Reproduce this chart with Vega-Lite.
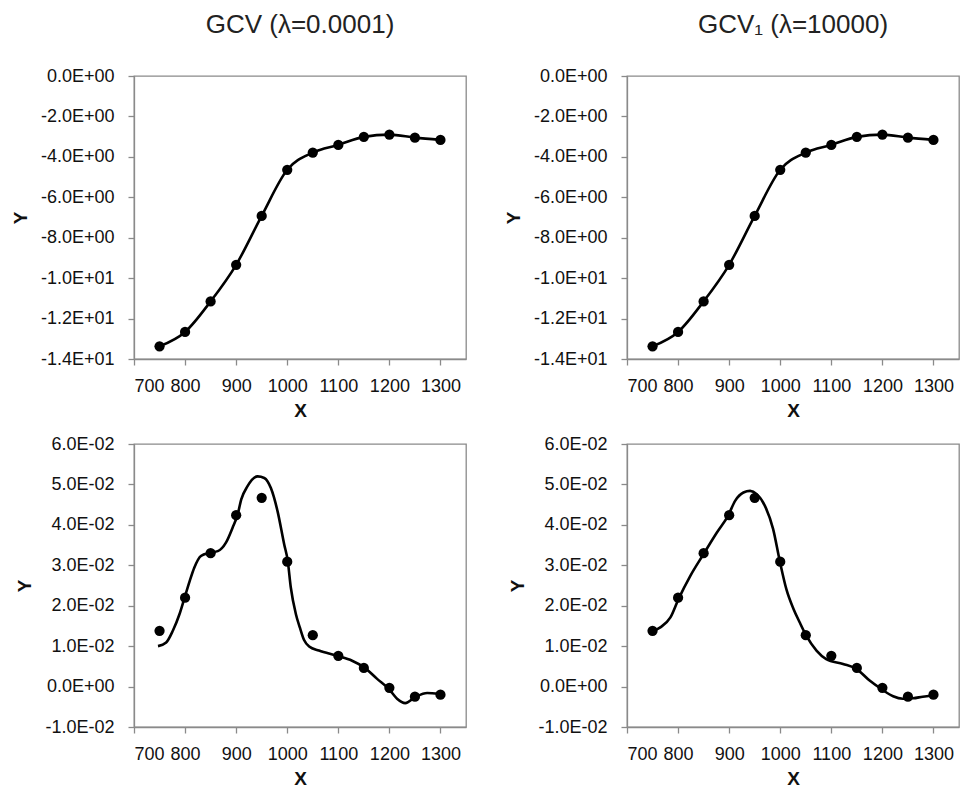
{
  "$schema": "https://vega.github.io/schema/vega-lite/v6.json",
  "background": "white",
  "padding": {"left": 10, "top": 11, "right": 10, "bottom": 5},
  "config": {
    "font": "Liberation Sans",
    "view": {"stroke": "#8a8a8a", "strokeWidth": 1.3},
    "axis": {
      "grid": false,
      "domainColor": "#8a8a8a",
      "domainWidth": 1.3,
      "tickColor": "#8a8a8a",
      "tickWidth": 1.3,
      "tickSize": 6,
      "labelFont": "Liberation Sans",
      "labelFontSize": 18,
      "labelColor": "#111",
      "titleFont": "Liberation Sans",
      "titleFontSize": 19,
      "titleFontWeight": "bold",
      "titleColor": "#111"
    },
    "axisX": {"labelPadding": 12, "titlePadding": 6, "format": "d"},
    "axisY": {"labelPadding": 14, "titlePadding": 10},
    "title": {"font": "Liberation Sans", "fontSize": 26, "fontWeight": "normal", "color": "#222", "frame": "group", "anchor": "middle", "offset": 29}
  },
  "datasets": {
    "top": [
      {"x": 750, "y": -13.37}, {"x": 800, "y": -12.66}, {"x": 850, "y": -11.15}, {"x": 900, "y": -9.34},
      {"x": 950, "y": -6.92}, {"x": 1000, "y": -4.64}, {"x": 1050, "y": -3.79}, {"x": 1100, "y": -3.41},
      {"x": 1150, "y": -3.01}, {"x": 1200, "y": -2.90}, {"x": 1250, "y": -3.05}, {"x": 1300, "y": -3.16}
    ],
    "bottom": [
      {"x": 750, "y": 0.0138}, {"x": 800, "y": 0.0220}, {"x": 850, "y": 0.0330}, {"x": 900, "y": 0.0424},
      {"x": 950, "y": 0.0467}, {"x": 1000, "y": 0.0309}, {"x": 1050, "y": 0.0127}, {"x": 1100, "y": 0.0076},
      {"x": 1150, "y": 0.0046}, {"x": 1200, "y": -0.0003}, {"x": 1250, "y": -0.0025}, {"x": 1300, "y": -0.0020}
    ],
    "curveA": [
      {"x": 747, "y": 0.0100}, {"x": 763, "y": 0.0109}, {"x": 776, "y": 0.0138}, {"x": 789, "y": 0.0179},
      {"x": 799, "y": 0.0220}, {"x": 809, "y": 0.0261}, {"x": 818, "y": 0.0294}, {"x": 831, "y": 0.0323},
      {"x": 848, "y": 0.0331}, {"x": 864, "y": 0.0335}, {"x": 880, "y": 0.0356}, {"x": 893, "y": 0.0393},
      {"x": 903, "y": 0.0426}, {"x": 910, "y": 0.0463}, {"x": 922, "y": 0.0495}, {"x": 942, "y": 0.0520},
      {"x": 955, "y": 0.0516}, {"x": 968, "y": 0.0491}, {"x": 981, "y": 0.0434}, {"x": 994, "y": 0.0352},
      {"x": 1001, "y": 0.0311}, {"x": 1007, "y": 0.0245}, {"x": 1017, "y": 0.0179}, {"x": 1025, "y": 0.0145},
      {"x": 1033, "y": 0.0115}, {"x": 1043, "y": 0.0099}, {"x": 1062, "y": 0.0089}, {"x": 1098, "y": 0.0076},
      {"x": 1127, "y": 0.0064}, {"x": 1150, "y": 0.0048}, {"x": 1176, "y": 0.0019}, {"x": 1199, "y": -0.0006},
      {"x": 1215, "y": -0.0030}, {"x": 1231, "y": -0.0041}, {"x": 1251, "y": -0.0026}, {"x": 1274, "y": -0.0016},
      {"x": 1297, "y": -0.0018}
    ],
    "curveB": [
      {"x": 752, "y": 0.0138}, {"x": 766, "y": 0.0147}, {"x": 785, "y": 0.0171}, {"x": 801, "y": 0.0217},
      {"x": 824, "y": 0.0274}, {"x": 850, "y": 0.0328}, {"x": 876, "y": 0.0381}, {"x": 898, "y": 0.0423},
      {"x": 912, "y": 0.0460}, {"x": 928, "y": 0.0480}, {"x": 941, "y": 0.0484}, {"x": 954, "y": 0.0476},
      {"x": 970, "y": 0.0447}, {"x": 986, "y": 0.0390}, {"x": 999, "y": 0.0311}, {"x": 1012, "y": 0.0241},
      {"x": 1026, "y": 0.0192}, {"x": 1038, "y": 0.0159}, {"x": 1051, "y": 0.0126}, {"x": 1071, "y": 0.0089},
      {"x": 1090, "y": 0.0068}, {"x": 1123, "y": 0.0056}, {"x": 1149, "y": 0.0044}, {"x": 1175, "y": 0.0015},
      {"x": 1198, "y": -0.0006}, {"x": 1221, "y": -0.0024}, {"x": 1240, "y": -0.0030}, {"x": 1260, "y": -0.0029},
      {"x": 1279, "y": -0.0025}, {"x": 1298, "y": -0.0022}
    ]
  },
  "columns": 2,
  "spacing": {"row": 13, "column": 36},
  "concat": [
    {
      "title": {"text": "GCV (λ=0.0001)"},
      "width": 332, "height": 283,
      "data": {"name": "top"},
      "encoding": {
        "x": {"field": "x", "type": "quantitative", "title": "X", "scale": {"domain": [700, 1350], "nice": false, "zero": false}, "axis": {"values": [700, 800, 900, 1000, 1100, 1200, 1300]}},
        "y": {"field": "y", "type": "quantitative", "title": "Y", "scale": {"domain": [-14, 0], "nice": false, "zero": false}, "axis": {"values": [0, -2, -4, -6, -8, -10, -12, -14], "labelExpr": "upper(replace(replace(replace(format(datum.value, '.1e'), '−', '-'), 'e+', 'e+0'), 'e-', 'e-0'))"}}
      },
      "layer": [
        {"mark": {"type": "line", "color": "black", "strokeWidth": 2.6, "interpolate": "monotone"}},
        {"mark": {"type": "circle", "color": "black", "opacity": 1, "size": 105}}
      ]
    },
    {
      "title": {"text": "GCV₁ (λ=10000)"},
      "width": 332, "height": 283,
      "data": {"name": "top"},
      "encoding": {
        "x": {"field": "x", "type": "quantitative", "title": "X", "scale": {"domain": [700, 1350], "nice": false, "zero": false}, "axis": {"values": [700, 800, 900, 1000, 1100, 1200, 1300]}},
        "y": {"field": "y", "type": "quantitative", "title": "Y", "scale": {"domain": [-14, 0], "nice": false, "zero": false}, "axis": {"values": [0, -2, -4, -6, -8, -10, -12, -14], "labelExpr": "upper(replace(replace(replace(format(datum.value, '.1e'), '−', '-'), 'e+', 'e+0'), 'e-', 'e-0'))"}}
      },
      "layer": [
        {"mark": {"type": "line", "color": "black", "strokeWidth": 2.6, "interpolate": "monotone"}},
        {"mark": {"type": "circle", "color": "black", "opacity": 1, "size": 105}}
      ]
    },
    {
      "width": 332, "height": 283,
      "encoding": {
        "x": {"field": "x", "type": "quantitative", "title": "X", "scale": {"domain": [700, 1350], "nice": false, "zero": false}, "axis": {"values": [700, 800, 900, 1000, 1100, 1200, 1300]}},
        "y": {"field": "y", "type": "quantitative", "title": "Y", "scale": {"domain": [-0.01, 0.06], "nice": false, "zero": false}, "axis": {"values": [-0.01, 0, 0.01, 0.02, 0.03, 0.04, 0.05, 0.06], "labelExpr": "upper(replace(replace(replace(format(datum.value, '.1e'), '−', '-'), 'e+', 'e+0'), 'e-', 'e-0'))"}}
      },
      "layer": [
        {"data": {"name": "curveA"}, "mark": {"type": "line", "color": "black", "strokeWidth": 2.6, "interpolate": "monotone"}},
        {"data": {"name": "bottom"}, "mark": {"type": "circle", "color": "black", "opacity": 1, "size": 105}}
      ]
    },
    {
      "width": 332, "height": 283,
      "encoding": {
        "x": {"field": "x", "type": "quantitative", "title": "X", "scale": {"domain": [700, 1350], "nice": false, "zero": false}, "axis": {"values": [700, 800, 900, 1000, 1100, 1200, 1300]}},
        "y": {"field": "y", "type": "quantitative", "title": "Y", "scale": {"domain": [-0.01, 0.06], "nice": false, "zero": false}, "axis": {"values": [-0.01, 0, 0.01, 0.02, 0.03, 0.04, 0.05, 0.06], "labelExpr": "upper(replace(replace(replace(format(datum.value, '.1e'), '−', '-'), 'e+', 'e+0'), 'e-', 'e-0'))"}}
      },
      "layer": [
        {"data": {"name": "curveB"}, "mark": {"type": "line", "color": "black", "strokeWidth": 2.6, "interpolate": "monotone"}},
        {"data": {"name": "bottom"}, "mark": {"type": "circle", "color": "black", "opacity": 1, "size": 105}}
      ]
    }
  ]
}
